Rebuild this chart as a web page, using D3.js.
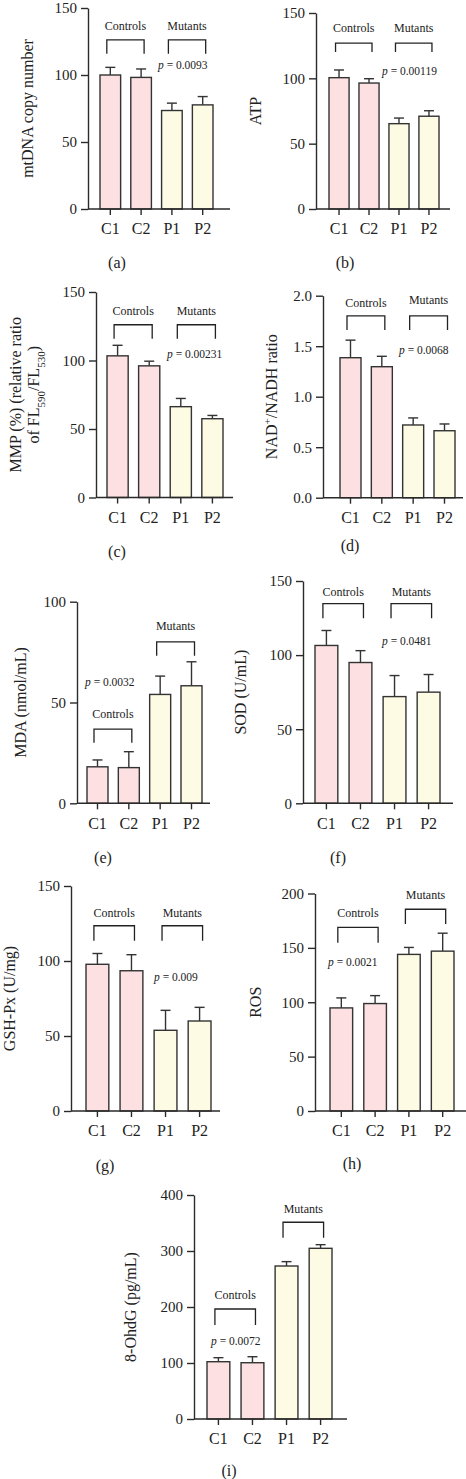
<!DOCTYPE html>
<html>
<head>
<meta charset="utf-8">
<script src="https://d3js.org/d3.v7.min.js"></script>
<style>
  body { margin: 0; background: #fff; }
  svg { display: block; font-family: "Liberation Serif", "DejaVu Serif", serif; }
  .axis path, .axis line { stroke: #2a2a2a; stroke-width: 1.4; }
  .axis text { fill: #222; font-family: "Liberation Serif", "DejaVu Serif", serif; }
</style>
</head>
<body>
<svg id="chart" width="466" height="1479"></svg>
<script>
// categories and groups
var categories = ["C1", "C2", "P1", "P2"];
var isControl = [true, true, false, false];

// bar means and upper error (top of whisker)
var mtdnaMean = [100, 98.2, 73.5, 77.7];
var mtdnaTop  = [105.7, 104.5, 79, 83.9];
var atpMean   = [100.5, 96.4, 65.3, 71];
var atpTop    = [106.4, 99.7, 69.6, 75.2];
var mmpMean   = [103.4, 96.1, 66.3, 57.5];
var mmpTop    = [111.1, 99.5, 72.3, 59.9];
var nadMean   = [1.386, 1.297, 0.72, 0.663];
var nadTop    = [1.56, 1.40, 0.79, 0.73];
var mdaMean   = [18.1, 17.7, 54, 58.3];
var mdaTop    = [21.5, 25.6, 63.1, 70.2];
var sodMean   = [106.5, 95, 72, 75];
var sodTop    = [116.6, 103, 86.2, 86.9];
var gshMean   = [97.8, 93.5, 53.8, 60];
var gshTop    = [105, 104.2, 67.1, 69.1];
var rosMean   = [94.8, 98.8, 144, 147];
var rosTop    = [104, 106.1, 150.4, 163.5];
var ohdgMean  = [102.3, 100.5, 273.2, 304.8];
var ohdgTop   = [109.5, 111.2, 281, 311.3];

// tick labels
var ticks150 = [0, 50, 100, 150];
var ticksNad = [0, 0.5, 1.0, 1.5, 2.0];
var ticks100 = [0, 50, 100];
var ticks200 = [0, 50, 100, 150, 200];
var ticks400 = [0, 100, 200, 300, 400];

var pLabels = ["p = 0.0093", "p = 0.00119", "p = 0.00231", "p = 0.0068", "p = 0.0032",
               "p = 0.0481", "p = 0.009", "p = 0.0021", "p = 0.0072"];

// panel layout (pixels) and annotation heights (data units)
var panels = [
  {id: "a", mean: mtdnaMean, top: mtdnaTop, ticks: ticks150, ax: 88, y0: 209, yT: 8, bL: 100, bR: 213, axEnd: 230,
   capX: 117, capY: 262, labX: 27, title: "mtDNA copy number",
   ctrl: [136.6, 126.2, 115.8], mut: [136.6, 126.2, 115.8], p: [70, 107.7]},
  {id: "b", mean: atpMean, top: atpTop, ticks: ticks150, ax: 316, y0: 209, yT: 13, bL: 329, bR: 439, axEnd: 450,
   capX: 345, capY: 262, labX: 255, title: "ATP",
   ctrl: [138.5, 127, 120.2], mut: [138.5, 127, 120.2], p: [66, 105.6]},
  {id: "c", mean: mmpMean, top: mmpTop, ticks: ticks150, ax: 96, y0: 497.5, yT: 292, bL: 107, bR: 223, axEnd: 233,
   capX: 117, capY: 551, labX: 15, title: "mmp",
   ctrl: [136.3, 126.1, 115.9], mut: [136.3, 126.1, 115.9], p: [71, 104.6]},
  {id: "d", mean: nadMean, top: nadTop, ticks: ticksNad, fmt: ".1f", ax: 323, y0: 497.7, yT: 295.7, bL: 340, bR: 455, axEnd: 463,
   capX: 350, capY: 545, labX: 271, title: "nad",
   ctrl: [1.927, 1.80, 1.66], mut: [1.957, 1.80, 1.66], p: [76, 1.462]},
  {id: "e", mean: mdaMean, top: mdaTop, ticks: ticks100, ax: 77, y0: 803.3, yT: 601.7, bL: 87, bR: 202, axEnd: 210,
   capX: 103, capY: 857, labX: 20, title: "MDA (nmol/mL)",
   ctrl: [44.6, 36.8, 30], mut: [87.9, 80.1, 73.2], p: [8, 60.3]},
  {id: "f", mean: sodMean, top: sodTop, ticks: ticks150, ax: 303, y0: 803.3, yT: 581, bL: 315, bR: 440, axEnd: 453,
   capX: 338, capY: 857, labX: 240, title: "SOD (U/mL)",
   ctrl: [142.9, 134.8, 124.9], mut: [142.9, 134.8, 124.9], p: [79, 109.8]},
  {id: "g", mean: gshMean, top: gshTop, ticks: ticks150, ax: 71, y0: 1111, yT: 886, bL: 86, bR: 211, axEnd: 220,
   capX: 105, capY: 1165, labX: 9, title: "GSH-Px (U/mg)",
   ctrl: [132, 123.5, 113.5], mut: [132, 123.5, 113.5], p: [83, 89.5]},
  {id: "h", mean: rosMean, top: rosTop, ticks: ticks200, ax: 315, y0: 1111, yT: 893.5, bL: 330, bR: 454, axEnd: 466,
   capX: 352, capY: 1163, labX: 255, title: "ROS",
   ctrl: [181.8, 168.9, 154.8], mut: [198.6, 185.5, 172], p: [13, 137.3]},
  {id: "i", mean: ohdgMean, top: ohdgTop, ticks: ticks400, ax: 194, y0: 1419, yT: 1195, bL: 207, bR: 332, axEnd: 347,
   capX: 229, capY: 1470, labX: 130, title: "8-OhdG (pg/mL)",
   ctrl: [221.4, 196.4, 167.9], mut: [374.5, 351.3, 323.8], p: [17, 139.8]}
];

var svg = d3.select("#chart");
var pink = "#fde0e1", cream = "#fdfbe3", edge = "#333";

panels.forEach(function(P, pi) {
  var g = svg.append("g");
  var ticks = P.ticks;
  var y = d3.scaleLinear().domain([0, ticks[ticks.length - 1]]).range([P.y0, P.yT]);
  var x = d3.scaleBand().domain(categories).range([P.bL, P.bR]).paddingInner(0.33).paddingOuter(0);
  var bw = x.bandwidth();
  var rows = categories.map(function(c, i) { return {c: c, m: P.mean[i], t: P.top[i], ctl: isControl[i]}; });

  // error whiskers (upper only)
  g.selectAll(".whisk").data(rows).enter().append("line")
    .attr("x1", function(d) { return x(d.c) + bw / 2; })
    .attr("x2", function(d) { return x(d.c) + bw / 2; })
    .attr("y1", function(d) { return y(d.m); })
    .attr("y2", function(d) { return y(d.t); })
    .attr("stroke", edge).attr("stroke-width", 1.4);
  g.selectAll(".cap").data(rows).enter().append("line")
    .attr("x1", function(d) { return x(d.c) + bw / 2 - 5; })
    .attr("x2", function(d) { return x(d.c) + bw / 2 + 5; })
    .attr("y1", function(d) { return y(d.t); })
    .attr("y2", function(d) { return y(d.t); })
    .attr("stroke", edge).attr("stroke-width", 1.4);

  // bars
  g.selectAll(".bar").data(rows).enter().append("rect")
    .attr("x", function(d) { return x(d.c); })
    .attr("width", bw)
    .attr("y", function(d) { return y(d.m); })
    .attr("height", function(d) { return y(0) - y(d.m); })
    .attr("fill", function(d) { return d.ctl ? pink : cream; })
    .attr("stroke", edge).attr("stroke-width", 1.4);

  // y axis
  var yAxis = d3.axisLeft(y).tickValues(ticks).tickSizeInner(7).tickSizeOuter(0).tickPadding(4);
  if (P.fmt) yAxis.tickFormat(d3.format(P.fmt));
  var ya = g.append("g").attr("class", "axis").attr("transform", "translate(" + P.ax + ",0)").call(yAxis);
  ya.attr("font-family", null);
  ya.selectAll("text").style("font-size", "15px");

  // x axis
  g.append("line")
    .attr("x1", P.ax).attr("x2", P.axEnd).attr("y1", P.y0).attr("y2", P.y0)
    .attr("stroke", "#2a2a2a").attr("stroke-width", 1.4);
  var xAxis = d3.axisBottom(x).tickSizeInner(6).tickSizeOuter(0).tickPadding(8);
  var xa = g.append("g").attr("class", "axis").attr("transform", "translate(0," + P.y0 + ")").call(xAxis);
  xa.attr("font-family", null);
  xa.select(".domain").remove();
  xa.selectAll("text").style("font-size", "16px");

  // brackets
  [["Controls", P.ctrl, 0, 1], ["Mutants", P.mut, 2, 3]].forEach(function(b) {
    var xa1 = x(categories[b[2]]) + bw / 2 - 3.5;
    var xa2 = x(categories[b[3]]) + bw / 2 + 3;
    g.append("path")
      .attr("d", "M" + xa1 + "," + y(b[1][2]) + "V" + y(b[1][1]) + "H" + xa2 + "V" + y(b[1][2]))
      .attr("fill", "none").attr("stroke", "#222").attr("stroke-width", 1.3);
    g.append("text").attr("x", (xa1 + xa2) / 2).attr("y", y(b[1][0])).attr("dy", "0.35em")
      .attr("text-anchor", "middle").style("font-size", "12px").attr("fill", "#222").text(b[0]);
  });

  // p value
  var pt = g.append("text").attr("x", P.ax + P.p[0]).attr("y", y(P.p[1])).attr("dy", "0.35em")
    .style("font-size", "11.5px").attr("fill", "#222");
  pt.append("tspan").style("font-style", "italic").text("p");
  pt.append("tspan").text(pLabels[pi].slice(1));

  // y title
  var midY = (P.y0 + P.yT) / 2;
  if (P.title === "mmp") {
    g.append("text").attr("transform", "translate(" + P.labX + "," + midY + ") rotate(-90)")
      .attr("dy", "0.35em").attr("text-anchor", "middle").style("font-size", "16px").attr("fill", "#222")
      .text("MMP (%) (relative ratio");
    var t2 = g.append("text").attr("transform", "translate(" + (P.labX + 18) + "," + midY + ") rotate(-90)")
      .attr("dy", "0.35em").attr("text-anchor", "middle").style("font-size", "16px").attr("fill", "#222");
    t2.append("tspan").text("of FL");
    t2.append("tspan").attr("baseline-shift", "sub").style("font-size", "11px").text("590");
    t2.append("tspan").text("/FL");
    t2.append("tspan").attr("baseline-shift", "sub").style("font-size", "11px").text("530");
    t2.append("tspan").text(")");
  } else if (P.title === "nad") {
    var t3 = g.append("text").attr("transform", "translate(" + P.labX + "," + midY + ") rotate(-90)")
      .attr("dy", "0.35em").attr("text-anchor", "middle").style("font-size", "16px").attr("fill", "#222");
    t3.append("tspan").text("NAD");
    t3.append("tspan").attr("baseline-shift", "super").style("font-size", "11px").text("+");
    t3.append("tspan").text("/NADH ratio");
  } else {
    g.append("text").attr("transform", "translate(" + P.labX + "," + midY + ") rotate(-90)")
      .attr("dy", "0.35em").attr("text-anchor", "middle").style("font-size", "16px").attr("fill", "#222")
      .text(P.title);
  }

  // caption
  g.append("text").attr("x", P.capX).attr("y", P.capY).attr("dy", "0.35em")
    .attr("text-anchor", "middle").style("font-size", "16px").attr("fill", "#222")
    .text("(" + P.id + ")");
});
</script>
</body>
</html>
